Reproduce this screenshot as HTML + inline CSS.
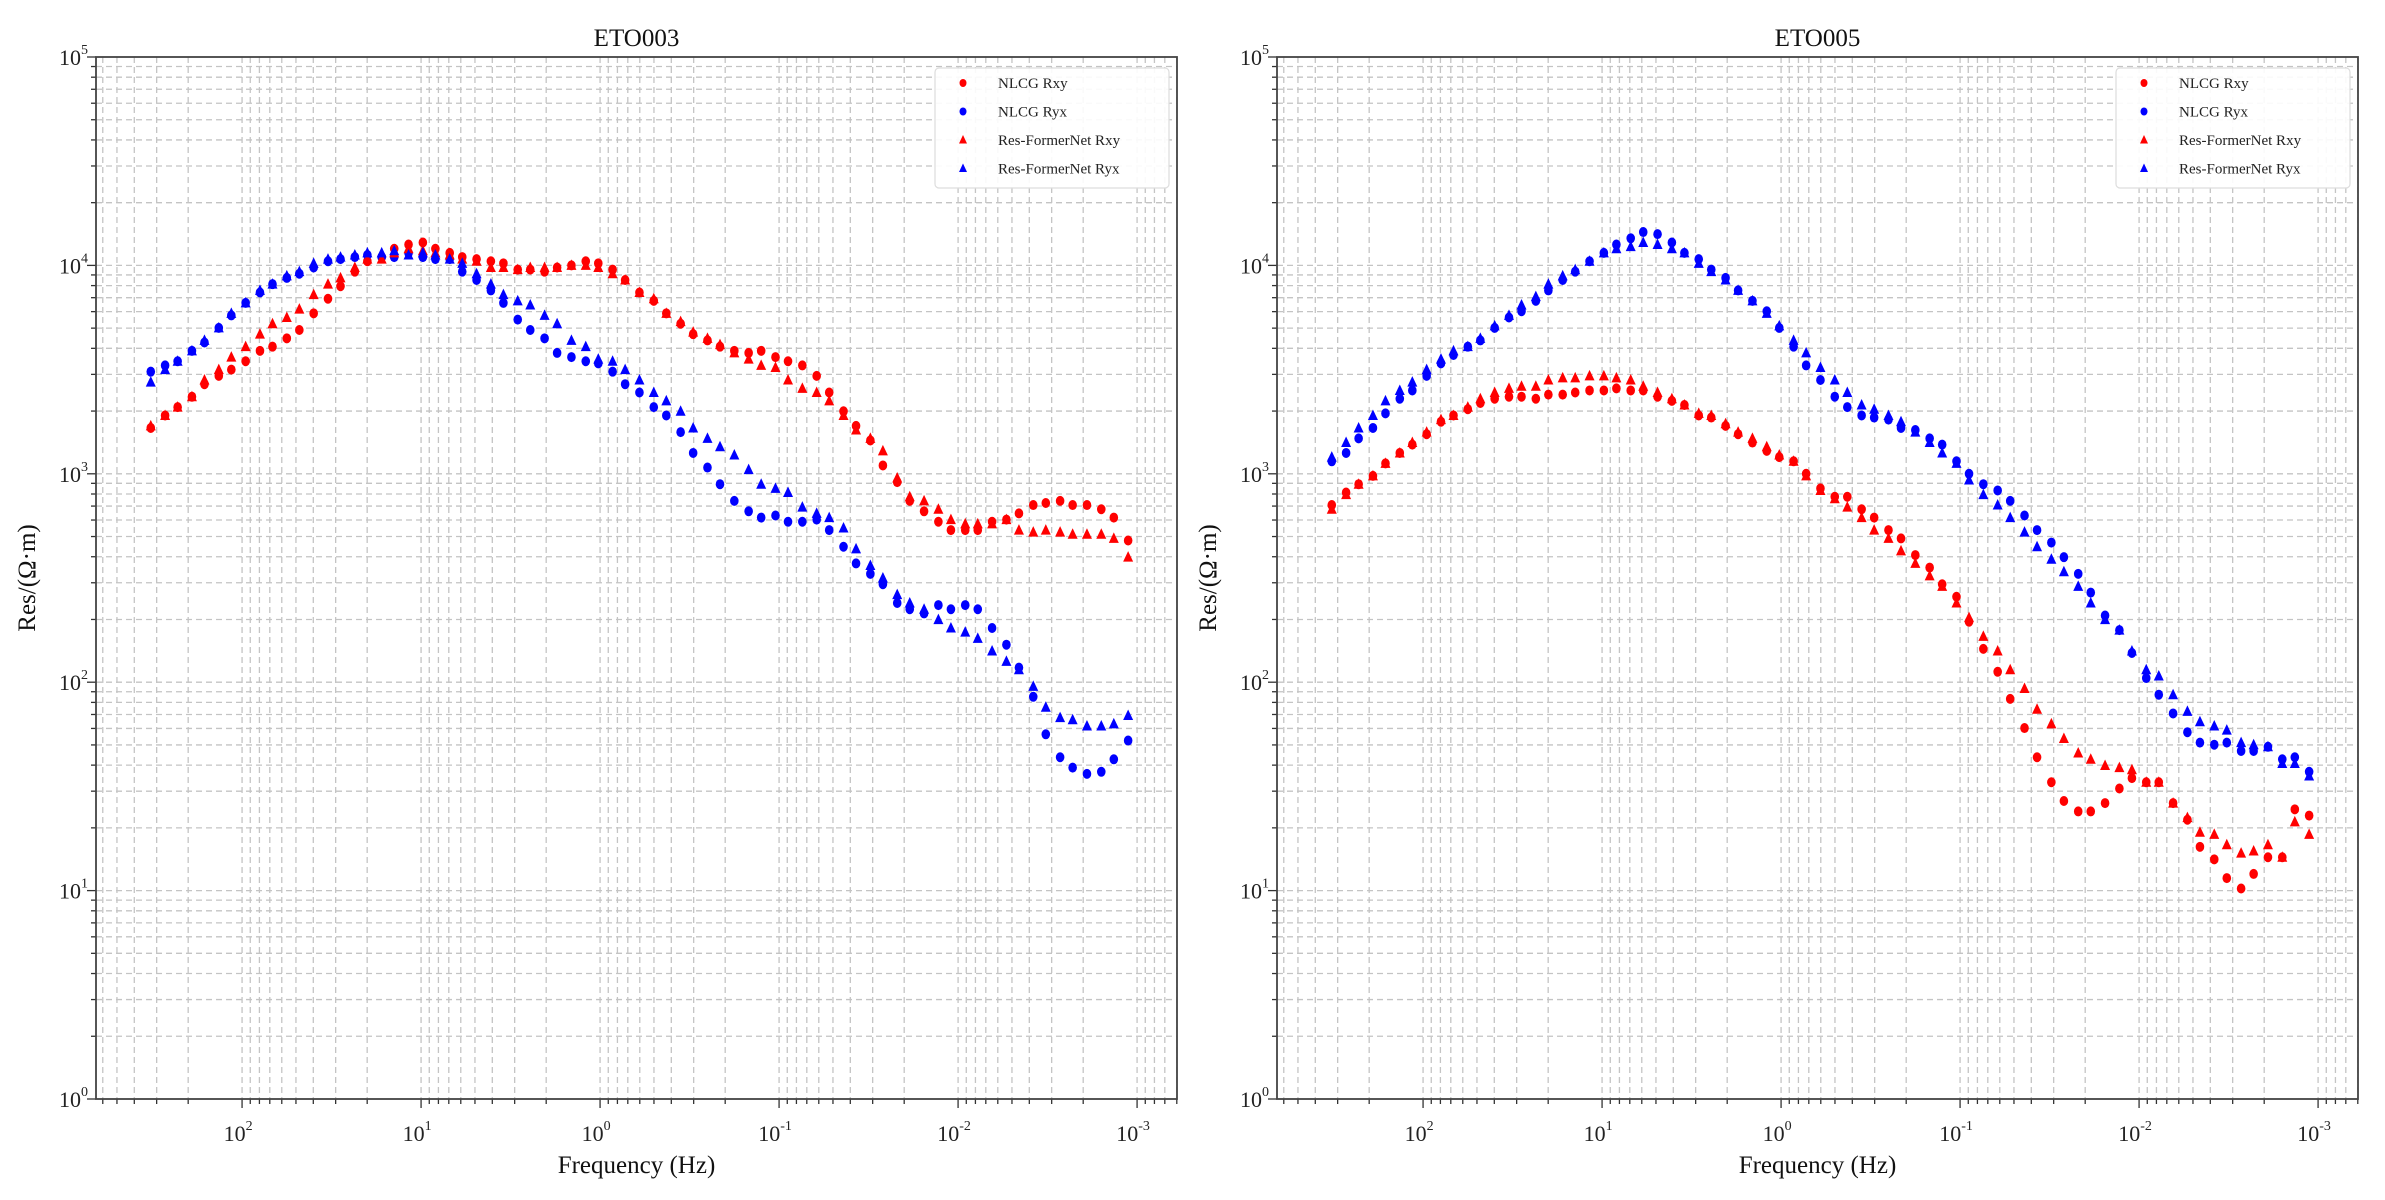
<!DOCTYPE html>
<html><head><meta charset="utf-8"><style>
html,body{margin:0;padding:0;background:#fff;}
svg{display:block;font-family:"Liberation Serif","DejaVu Serif",serif;}
</style></head><body>
<svg id="chart" width="2385" height="1200" viewBox="0 0 2385 1200" xmlns="http://www.w3.org/2000/svg"></svg>
<script>
// Shared frequencies (log10 Hz)
const freqLog = [2.51,2.43,2.36,2.28,2.21,2.13,2.06,1.98,1.90,1.83,1.75,1.68,1.60,1.52,1.45,1.37,1.30,1.22,1.15,1.07,0.99,0.92,0.84,0.77,0.69,0.61,0.54,0.46,0.39,0.31,0.24,0.16,0.08,0.01,-0.07,-0.14,-0.22,-0.30,-0.37,-0.45,-0.52,-0.60,-0.67,-0.75,-0.83,-0.90,-0.98,-1.05,-1.13,-1.21,-1.28,-1.36,-1.43,-1.51,-1.58,-1.66,-1.73,-1.81,-1.89,-1.96,-2.04,-2.11,-2.19,-2.27,-2.34,-2.42,-2.49,-2.57,-2.64,-2.72,-2.80,-2.87,-2.95];
const xTickExps = [2,1,0,-1,-2,-3];
const yTickExps = [0,1,2,3,4,5];
const seriesNames = ["NLCG Rxy","NLCG Ryx","Res-FormerNet Rxy","Res-FormerNet Ryx"];
// ETO003 (log10 resistivity)
const eto003NlcgRxy = [3.22,3.28,3.32,3.37,3.43,3.47,3.50,3.54,3.59,3.61,3.65,3.69,3.77,3.84,3.90,3.97,4.02,4.04,4.08,4.10,4.11,4.08,4.06,4.04,4.03,4.02,4.01,3.98,3.98,3.97,3.99,4.00,4.02,4.01,3.98,3.93,3.87,3.83,3.77,3.72,3.67,3.64,3.61,3.59,3.58,3.59,3.56,3.54,3.52,3.47,3.39,3.30,3.23,3.16,3.04,2.96,2.87,2.82,2.77,2.73,2.73,2.73,2.77,2.78,2.81,2.85,2.86,2.87,2.85,2.85,2.83,2.79,2.68];
const eto003NlcgRyx = [3.49,3.52,3.54,3.59,3.63,3.70,3.76,3.82,3.87,3.91,3.94,3.96,3.99,4.02,4.03,4.04,4.05,4.04,4.04,4.06,4.04,4.03,4.03,3.97,3.93,3.88,3.82,3.74,3.69,3.65,3.58,3.56,3.54,3.53,3.49,3.43,3.39,3.32,3.28,3.20,3.10,3.03,2.95,2.87,2.82,2.79,2.80,2.77,2.77,2.78,2.73,2.65,2.57,2.52,2.47,2.38,2.35,2.33,2.37,2.35,2.37,2.35,2.26,2.18,2.07,1.93,1.75,1.64,1.59,1.56,1.57,1.63,1.72];
const eto003ResRxy = [3.23,3.28,3.32,3.37,3.45,3.50,3.56,3.61,3.67,3.72,3.75,3.79,3.86,3.91,3.94,3.99,4.03,4.03,4.06,4.08,4.07,4.06,4.05,4.03,4.02,3.99,3.99,3.98,3.99,3.99,3.99,4.00,4.00,3.99,3.96,3.93,3.87,3.84,3.77,3.73,3.68,3.65,3.62,3.58,3.55,3.52,3.51,3.45,3.41,3.39,3.35,3.28,3.21,3.17,3.11,2.98,2.89,2.87,2.83,2.78,2.76,2.76,2.76,2.78,2.73,2.72,2.73,2.72,2.71,2.71,2.71,2.69,2.60];
const eto003ResRyx = [3.44,3.50,3.54,3.59,3.64,3.70,3.77,3.82,3.88,3.91,3.95,3.97,4.01,4.03,4.04,4.05,4.06,4.06,4.07,4.05,4.06,4.05,4.03,4.01,3.96,3.91,3.86,3.83,3.81,3.76,3.72,3.64,3.61,3.55,3.54,3.50,3.45,3.39,3.35,3.30,3.22,3.17,3.13,3.09,3.02,2.95,2.93,2.91,2.84,2.81,2.79,2.74,2.64,2.56,2.50,2.42,2.38,2.35,2.30,2.26,2.24,2.21,2.15,2.10,2.06,1.98,1.88,1.83,1.82,1.79,1.79,1.80,1.84];
// ETO005 (log10 resistivity)
const eto005NlcgRxy = [2.85,2.91,2.95,2.99,3.05,3.10,3.14,3.19,3.25,3.28,3.31,3.34,3.36,3.37,3.37,3.36,3.38,3.38,3.39,3.40,3.40,3.41,3.40,3.40,3.37,3.35,3.33,3.28,3.27,3.23,3.19,3.15,3.11,3.08,3.06,3.00,2.93,2.89,2.89,2.83,2.79,2.73,2.69,2.61,2.55,2.47,2.41,2.29,2.16,2.05,1.92,1.78,1.64,1.52,1.43,1.38,1.38,1.42,1.49,1.54,1.52,1.52,1.42,1.34,1.21,1.15,1.06,1.01,1.08,1.16,1.16,1.39,1.36];
const eto005NlcgRyx = [3.06,3.10,3.17,3.22,3.29,3.36,3.40,3.47,3.53,3.57,3.61,3.64,3.70,3.75,3.78,3.83,3.88,3.93,3.97,4.02,4.06,4.10,4.13,4.16,4.15,4.11,4.06,4.03,3.98,3.94,3.88,3.83,3.78,3.70,3.61,3.52,3.45,3.37,3.32,3.28,3.27,3.26,3.22,3.21,3.17,3.14,3.06,3.00,2.95,2.92,2.87,2.80,2.73,2.67,2.60,2.52,2.43,2.32,2.25,2.14,2.02,1.94,1.85,1.76,1.71,1.70,1.71,1.67,1.67,1.69,1.63,1.64,1.57];
const eto005ResRxy = [2.83,2.90,2.95,2.99,3.05,3.10,3.15,3.20,3.26,3.28,3.32,3.36,3.39,3.41,3.42,3.42,3.45,3.46,3.46,3.47,3.47,3.46,3.45,3.42,3.39,3.36,3.33,3.29,3.28,3.24,3.20,3.17,3.13,3.09,3.06,2.99,2.92,2.88,2.84,2.79,2.73,2.69,2.63,2.57,2.51,2.46,2.38,2.31,2.22,2.15,2.06,1.97,1.87,1.80,1.73,1.66,1.63,1.60,1.59,1.58,1.52,1.52,1.42,1.35,1.28,1.27,1.22,1.18,1.19,1.22,1.16,1.33,1.27];
const eto005ResRyx = [3.08,3.15,3.22,3.28,3.35,3.40,3.44,3.50,3.55,3.59,3.61,3.65,3.71,3.76,3.81,3.85,3.91,3.95,3.98,4.02,4.06,4.08,4.09,4.11,4.10,4.08,4.06,4.01,3.97,3.93,3.88,3.83,3.77,3.71,3.64,3.58,3.51,3.45,3.39,3.33,3.31,3.28,3.25,3.20,3.15,3.10,3.05,2.97,2.90,2.85,2.79,2.72,2.65,2.59,2.53,2.46,2.38,2.30,2.25,2.15,2.06,2.03,1.94,1.86,1.81,1.79,1.77,1.71,1.70,1.69,1.61,1.61,1.55];

const NS="http://www.w3.org/2000/svg";
const svg=document.getElementById('chart');
function mk(tag,attrs,parent){const e=document.createElementNS(NS,tag);for(const k in attrs)e.setAttribute(k,attrs[k]);(parent||svg).appendChild(e);return e;}

function panel(ox,title,sNlcgRxy,sNlcgRyx,sResRxy,sResRyx,key){
  const L=ox+96,R=ox+1177,T=57,B=1099;
  const xMax=2.816,xMin=-3.223;
  const xs=v=>L+(xMax-v)/(xMax-xMin)*(R-L);
  const ys=v=>B-(v-0)/5*(B-T);
  const g=mk('g',{});
  
  
  const grid=mk('g',{},g);
  
  
  // y grid
  for(let d=0;d<5;d++){for(let m=1;m<=9;m++){const v=d+Math.log10(m);const y=ys(v);
    if(m>1||d>0) mk('line',{x1:L,x2:R,y1:y,y2:y,stroke:'#c4c4c4','stroke-width':1.3,'stroke-dasharray':'6,4'},grid);
    mk('line',{x1:L-(m===1?9:5),x2:L,y1:y,y2:y,stroke:'#333','stroke-width':1.3},g);}}
  mk('line',{x1:L-9,x2:L,y1:T,y2:T,stroke:'#333','stroke-width':1.3},g);
  // x grid
  for(let d=3;d>=-4;d--){for(let m=1;m<=9;m++){const v=d+Math.log10(m);if(v>xMax||v<xMin)continue;const x=xs(v);
    mk('line',{x1:x,x2:x,y1:T,y2:B,stroke:'#c4c4c4','stroke-width':1.3,'stroke-dasharray':'6,4'},grid);
    mk('line',{x1:x,x2:x,y1:B,y2:B+(m===1?9:5),stroke:'#333','stroke-width':1.3},g);}}
  // frame
  const fr=mk('rect',{x:L,y:T,width:R-L,height:B-T,fill:'none',stroke:'#444','stroke-width':1.8},g);
  
  
  // y ticks
  yTickExps.forEach(e=>{const t=mk('text',{x:L-8,y:ys(e)+8,'text-anchor':'end','font-size':22,fill:'#222'},g);
    
    
    t.appendChild(document.createTextNode('10'));
    const s=mk('tspan',{dy:-11,'font-size':14},t);s.textContent=String(e);});
  xTickExps.forEach(e=>{const t=mk('text',{x:xs(e)-4,y:B+42,'text-anchor':'middle','font-size':22,fill:'#222'},g);
    
    
    t.appendChild(document.createTextNode('10'));
    const s=mk('tspan',{dy:-11,'font-size':14},t);s.textContent=String(e);});
  const tt=mk('text',{x:(L+R)/2,y:46,'text-anchor':'middle','font-size':25,fill:'#111'},g);
  
  
  tt.textContent=title;
  const xl=mk('text',{x:(L+R)/2,y:1173,'text-anchor':'middle','font-size':25,fill:'#111'},g);
  
  
  xl.textContent='Frequency (Hz)';
  const yl=mk('text',{x:0,y:0,'text-anchor':'middle','font-size':25,fill:'#111',transform:`translate(${ox+35},${(T+B)/2}) rotate(-90)`},g);
  
  
  yl.textContent='Res/(\u03A9\u00B7m)';
  // series
  const defs=[[sNlcgRxy,'#ff0000','dot','nlcg-rxy'],[sNlcgRyx,'#0000ff','dot','nlcg-ryx'],[sResRxy,'#ff0000','tri','res-rxy'],[sResRyx,'#0000ff','tri','res-ryx']];
  defs.forEach(([arr,col,shape,nm])=>{
    const sg=mk('g',{fill:col},g);
    
    
    arr.forEach((v,i)=>{const x=xs(freqLog[i]),y=ys(v);let m;
      if(shape==='dot') m=mk('ellipse',{cx:x,cy:y,rx:4.3,ry:5},sg);
      else m=mk('polygon',{points:`${x},${y-6} ${x-5},${y+4.5} ${x+5},${y+4.5}`},sg);
      
      });
  });
  // legend
  const lg=mk('g',{},g);
  
  
  mk('rect',{x:ox+935,y:68,width:234,height:120,rx:4,fill:'#fff','fill-opacity':0.9,stroke:'#ddd','stroke-width':1.2},lg);
  const cols=['#ff0000','#0000ff','#ff0000','#0000ff'];
  seriesNames.forEach((n,i)=>{const y=83+i*28.5;const x=ox+963;
    const e=mk('g',{},lg);
    
    
    if(i<2) mk('ellipse',{cx:x,cy:y,rx:3.5,ry:4,fill:cols[i]},e);
    else mk('polygon',{points:`${x},${y-5} ${x-4},${y+3.5} ${x+4},${y+3.5}`,fill:cols[i]},e);
    const t=mk('text',{x:ox+998,y:y+5,'font-size':15,fill:'#222'},e);t.textContent=n;});
}
panel(0,'ETO003',eto003NlcgRxy,eto003NlcgRyx,eto003ResRxy,eto003ResRyx,'eto003');
panel(1181,'ETO005',eto005NlcgRxy,eto005NlcgRyx,eto005ResRxy,eto005ResRyx,'eto005');
</script>
</body></html>
